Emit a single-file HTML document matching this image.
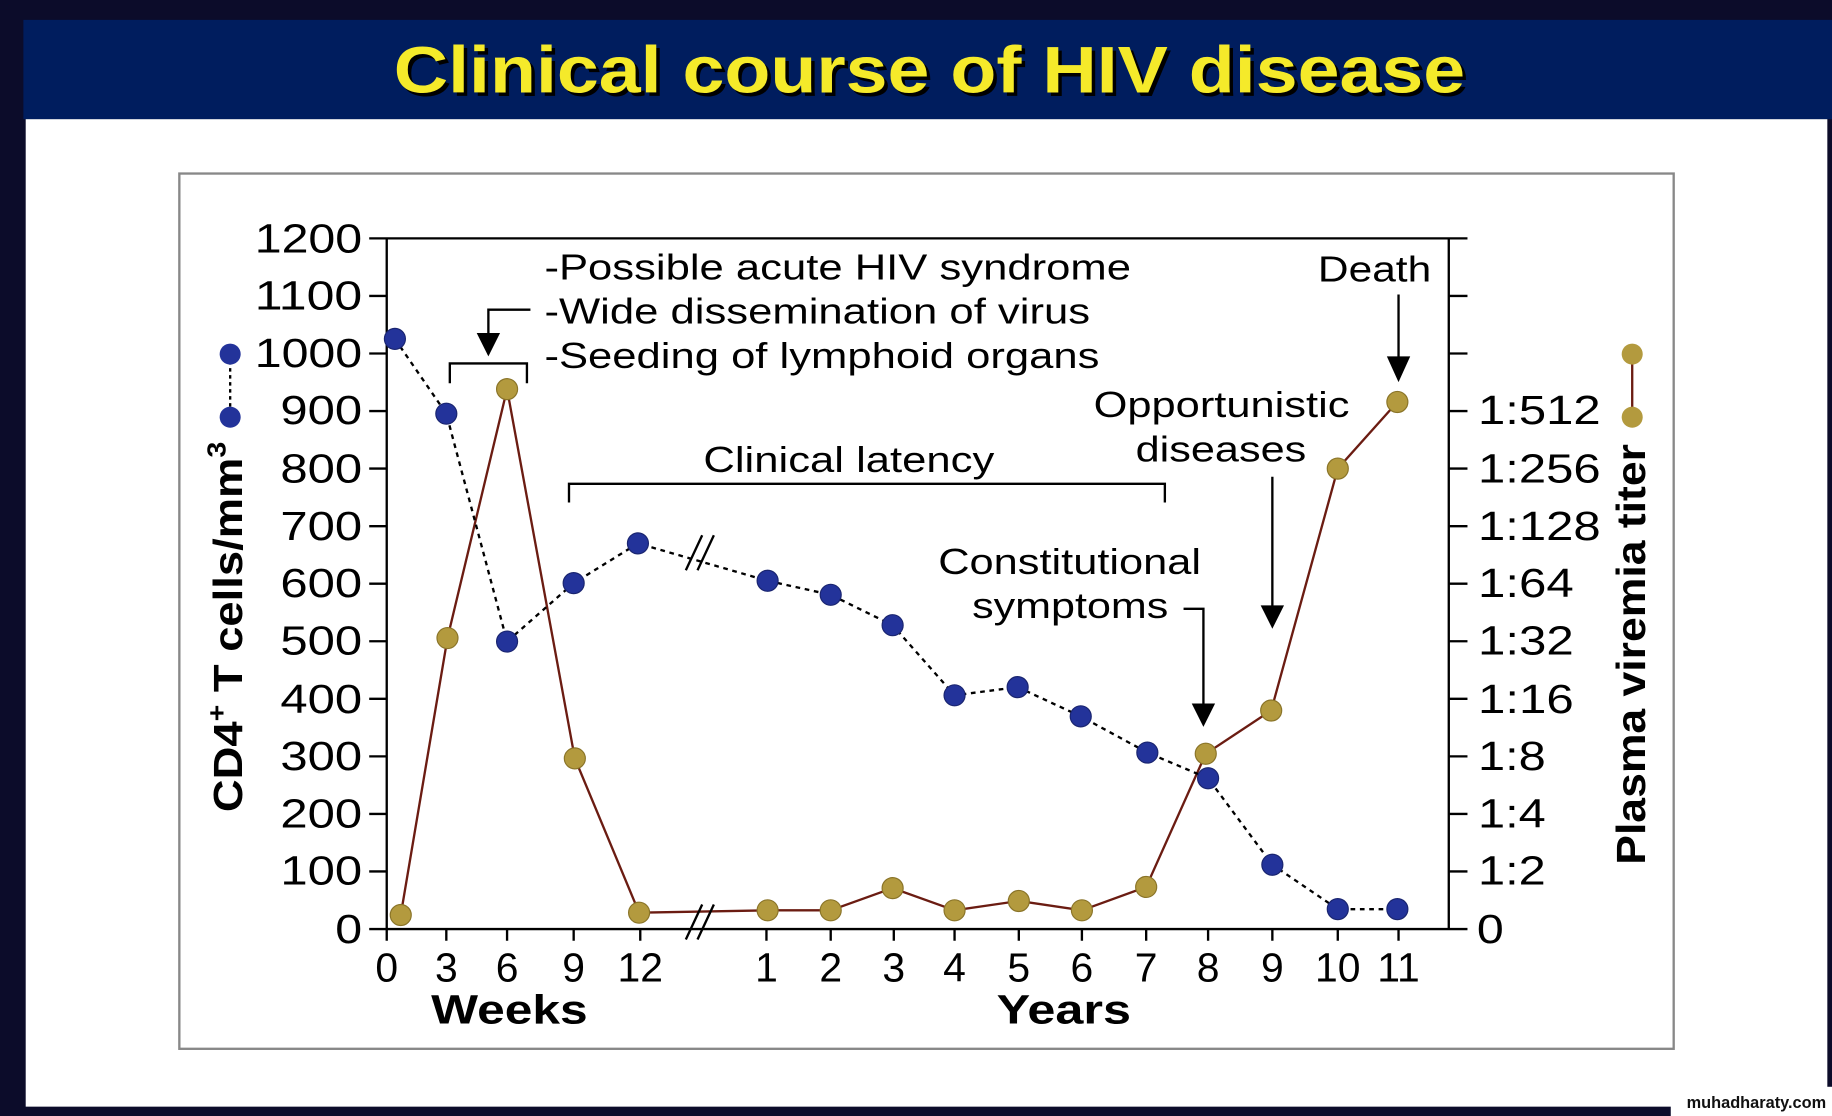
<!DOCTYPE html>
<html><head><meta charset="utf-8"><style>
html,body{margin:0;padding:0;background:#0c0c2a;}
svg{display:block;}
text{font-family:"Liberation Sans",sans-serif;}
</style></head><body>
<svg width="1832" height="1116" viewBox="0 0 1568 955" preserveAspectRatio="none" xmlns="http://www.w3.org/2000/svg">
<rect width="1568" height="955" fill="#0c0c2a"/>
<rect x="20" y="17" width="1548" height="85" fill="#001d5e"/>
<rect x="22" y="102" width="1542" height="845" fill="#fff"/>
<rect x="1430" y="930" width="138" height="25" fill="#fff"/>
<text x="337" y="79" textLength="917" lengthAdjust="spacingAndGlyphs" font-size="56" font-weight="bold" fill="#000" transform="translate(3,3)">Clinical course of HIV disease</text>
<text x="337" y="79" textLength="917" lengthAdjust="spacingAndGlyphs" font-size="56" font-weight="bold" fill="#f5ea2a">Clinical course of HIV disease</text>
<rect x="153.5" y="148.5" width="1279" height="749" fill="none" stroke="#888" stroke-width="2"/>
<g stroke="#000" stroke-width="2" fill="none">
<line x1="331" y1="204" x2="331" y2="795"/>
<line x1="316" y1="204" x2="1256" y2="204"/>
<line x1="1240" y1="204" x2="1240" y2="795"/>
<line x1="316" y1="795" x2="1256" y2="795"/>
<path d="M316 253.25h15M316 302.5h15M316 351.75h15M316 401h15M316 450.25h15M316 499.5h15M316 548.75h15M316 598h15M316 647.25h15M316 696.5h15M316 745.75h15"/>
<path d="M1240 253.25h16M1240 302.5h16M1240 351.75h16M1240 401h16M1240 450.25h16M1240 499.5h16M1240 548.75h16M1240 598h16M1240 647.25h16M1240 696.5h16M1240 745.75h16"/>
<path d="M331 795v10M382 795v10M434 795v10M491 795v10M548 795v10M656 795v10M711 795v10M765 795v10M817 795v10M872 795v10M926 795v10M981 795v10M1034 795v10M1089 795v10M1145 795v10M1197 795v10"/>
</g>
<g font-size="35" fill="#000" lengthAdjust="spacingAndGlyphs">
<text x="218" y="216" textLength="92" lengthAdjust="spacingAndGlyphs">1200</text>
<text x="218" y="265" textLength="92" lengthAdjust="spacingAndGlyphs">1100</text>
<text x="218" y="314" textLength="92" lengthAdjust="spacingAndGlyphs">1000</text>
<text x="240" y="363" textLength="70" lengthAdjust="spacingAndGlyphs">900</text>
<text x="240" y="413" textLength="70" lengthAdjust="spacingAndGlyphs">800</text>
<text x="240" y="462" textLength="70" lengthAdjust="spacingAndGlyphs">700</text>
<text x="240" y="511" textLength="70" lengthAdjust="spacingAndGlyphs">600</text>
<text x="240" y="560" textLength="70" lengthAdjust="spacingAndGlyphs">500</text>
<text x="240" y="610" textLength="70" lengthAdjust="spacingAndGlyphs">400</text>
<text x="240" y="659" textLength="70" lengthAdjust="spacingAndGlyphs">300</text>
<text x="240" y="708" textLength="70" lengthAdjust="spacingAndGlyphs">200</text>
<text x="240" y="757" textLength="70" lengthAdjust="spacingAndGlyphs">100</text>
<text x="287" y="807" textLength="23" lengthAdjust="spacingAndGlyphs">0</text>
</g>
<g font-size="35" fill="#000">
<text x="1265" y="363" textLength="105" lengthAdjust="spacingAndGlyphs">1:512</text>
<text x="1265" y="413" textLength="105" lengthAdjust="spacingAndGlyphs">1:256</text>
<text x="1265" y="462" textLength="105" lengthAdjust="spacingAndGlyphs">1:128</text>
<text x="1265" y="511" textLength="82" lengthAdjust="spacingAndGlyphs">1:64</text>
<text x="1265" y="560" textLength="82" lengthAdjust="spacingAndGlyphs">1:32</text>
<text x="1265" y="610" textLength="82" lengthAdjust="spacingAndGlyphs">1:16</text>
<text x="1265" y="659" textLength="58" lengthAdjust="spacingAndGlyphs">1:8</text>
<text x="1265" y="708" textLength="58" lengthAdjust="spacingAndGlyphs">1:4</text>
<text x="1265" y="757" textLength="58" lengthAdjust="spacingAndGlyphs">1:2</text>
<text x="1264" y="807" textLength="23" lengthAdjust="spacingAndGlyphs">0</text>
</g>
<g font-size="35" fill="#000" text-anchor="middle">
<text x="331" y="840">0</text><text x="382" y="840">3</text><text x="434" y="840">6</text><text x="491" y="840">9</text><text x="548" y="840">12</text><text x="656" y="840">1</text><text x="711" y="840">2</text><text x="765" y="840">3</text><text x="817" y="840">4</text><text x="872" y="840">5</text><text x="926" y="840">6</text><text x="981" y="840">7</text><text x="1034" y="840">8</text><text x="1089" y="840">9</text><text x="1145" y="840">10</text><text x="1197" y="840">11</text>
</g>
<text x="369" y="876" textLength="134" lengthAdjust="spacingAndGlyphs" font-size="35" font-weight="bold">Weeks</text>
<text x="853" y="876" textLength="115" lengthAdjust="spacingAndGlyphs" font-size="35" font-weight="bold">Years</text>
<text transform="translate(207,695) rotate(-90)" font-size="35" font-weight="bold" textLength="317" lengthAdjust="spacingAndGlyphs">CD4<tspan font-size="22" dy="-14">+</tspan><tspan dy="14"> T cells/mm</tspan><tspan font-size="22" dy="-14">3</tspan></text>
<text transform="translate(1408,740) rotate(-90)" font-size="35" font-weight="bold" textLength="360" lengthAdjust="spacingAndGlyphs">Plasma viremia titer</text>
<line x1="197" y1="303" x2="197" y2="357" stroke="#000" stroke-width="2" stroke-dasharray="3,3"/>
<circle cx="197" cy="303" r="9" fill="#23339a"/><circle cx="197" cy="357" r="9" fill="#23339a"/>
<line x1="1397" y1="303" x2="1397" y2="357" stroke="#6b1c12" stroke-width="2"/>
<circle cx="1397" cy="303" r="9" fill="#b39a3e"/><circle cx="1397" cy="357" r="9" fill="#b39a3e"/>
<polyline fill="none" stroke="#6b1c12" stroke-width="2" points="343,783 383,546 434,333 492,649 547,781 657,779 711,779 764,760 817,779 872,771 926,779 981,759 1032,645 1088,608 1145,401 1196,344"/>
<polyline fill="none" stroke="#000" stroke-width="2" stroke-dasharray="4,4" points="338,290 382,354 434,549 491,499 546,465 657,497 711,509 764,535 817,595 871,588 925,613 982,644 1034,666 1089,740 1145,778 1196,778"/>
<g fill="#b39a3e" stroke="#8a7428" stroke-width="1">
<circle cx="343" cy="783" r="9"/><circle cx="383" cy="546" r="9"/><circle cx="434" cy="333" r="9"/><circle cx="492" cy="649" r="9"/><circle cx="547" cy="781" r="9"/><circle cx="657" cy="779" r="9"/><circle cx="711" cy="779" r="9"/><circle cx="764" cy="760" r="9"/><circle cx="817" cy="779" r="9"/><circle cx="872" cy="771" r="9"/><circle cx="926" cy="779" r="9"/><circle cx="981" cy="759" r="9"/><circle cx="1032" cy="645" r="9"/><circle cx="1088" cy="608" r="9"/><circle cx="1145" cy="401" r="9"/><circle cx="1196" cy="344" r="9"/>
</g>
<g fill="#23339a" stroke="#1a2570" stroke-width="1">
<circle cx="338" cy="290" r="9"/><circle cx="382" cy="354" r="9"/><circle cx="434" cy="549" r="9"/><circle cx="491" cy="499" r="9"/><circle cx="546" cy="465" r="9"/><circle cx="657" cy="497" r="9"/><circle cx="711" cy="509" r="9"/><circle cx="764" cy="535" r="9"/><circle cx="817" cy="595" r="9"/><circle cx="871" cy="588" r="9"/><circle cx="925" cy="613" r="9"/><circle cx="982" cy="644" r="9"/><circle cx="1034" cy="666" r="9"/><circle cx="1089" cy="740" r="9"/><circle cx="1145" cy="778" r="9"/><circle cx="1196" cy="778" r="9"/>
</g>
<g stroke="#000" stroke-width="2" fill="none">
<path d="M587 488l14-30M597 488l14-30"/>
<path d="M587 804l14-30M597 804l14-30"/>
<path d="M385 328v-17h66v17"/>
<path d="M418 303v-38h36"/>
<path d="M487 430v-16h510v16"/>
<path d="M1013 521h17v90"/>
<path d="M1089 408v120"/>
<path d="M1197 252v68"/>
</g>
<g fill="#000">
<path d="M408 285l10 20 10-20z"/>
<path d="M1020 602l10 20 10-20z"/>
<path d="M1079 518l10 20 10-20z"/>
<path d="M1187 305l10 22 10-22z"/>
</g>
<g font-size="31" fill="#000">
<text x="466" y="239" textLength="502" lengthAdjust="spacingAndGlyphs">-Possible acute HIV syndrome</text>
<text x="466" y="277" textLength="467" lengthAdjust="spacingAndGlyphs">-Wide dissemination of virus</text>
<text x="466" y="315" textLength="475" lengthAdjust="spacingAndGlyphs">-Seeding of lymphoid organs</text>
<text x="602" y="404" textLength="249" lengthAdjust="spacingAndGlyphs">Clinical latency</text>
<text x="1128" y="241" textLength="97" lengthAdjust="spacingAndGlyphs">Death</text>
<text x="936" y="357" textLength="219" lengthAdjust="spacingAndGlyphs">Opportunistic</text>
<text x="972" y="395" textLength="146" lengthAdjust="spacingAndGlyphs">diseases</text>
<text x="803" y="491" textLength="225" lengthAdjust="spacingAndGlyphs">Constitutional</text>
<text x="832" y="529" textLength="168" lengthAdjust="spacingAndGlyphs">symptoms</text>
</g>
<text x="1563" y="948" font-size="14" font-weight="bold" text-anchor="end" fill="#111">muhadharaty.com</text>
</svg>
</body></html>
